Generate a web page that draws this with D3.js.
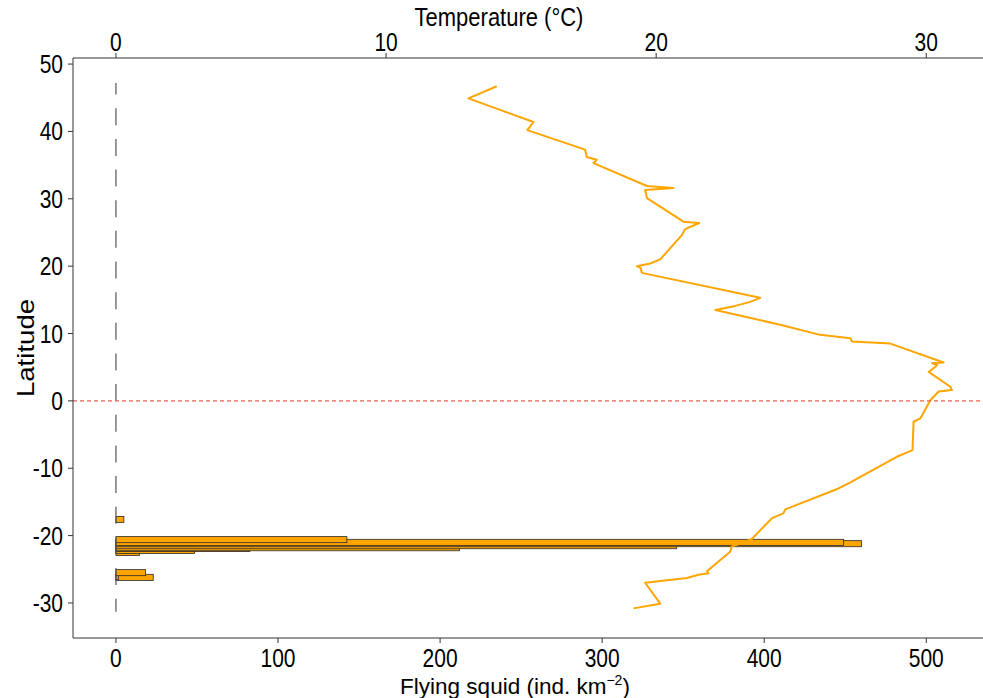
<!DOCTYPE html>
<html>
<head>
<meta charset="utf-8">
<script src="https://cdn.jsdelivr.net/npm/d3@7"></script>
<style>
  html, body { margin: 0; padding: 0; background: #fff; }
  svg text { font-family: "Liberation Sans", Arial, sans-serif; fill: #000; }
</style>
</head>
<body>
<svg id="chart" width="983" height="698"></svg>
<script>
// ---- Data ----
// Temperature profile along the cruise track (temperature °C, latitude)
const tempValues = [14.10, 13.05, 15.46, 15.23, 17.37, 17.43, 17.80, 17.68, 19.66, 20.64, 19.59, 19.66,
  21.01, 21.59, 21.07, 20.95, 20.15, 19.78, 19.29, 19.43, 19.47, 23.85, 23.48, 22.93, 22.19, 24.59,
  26.07, 27.19, 27.25, 28.67, 30.64, 30.21, 30.40, 30.09, 30.89, 30.95, 30.46, 30.15, 29.78, 29.53,
  29.49, 28.91, 27.19, 26.75, 24.78, 24.71, 24.29, 23.54, 23.11, 22.80, 22.74, 21.88, 21.94, 21.57,
  21.14, 19.59, 20.15, 19.16];
const tempLatitudes = [46.7, 44.9, 41.4, 40.2, 37.3, 36.2, 35.8, 35.3, 31.9, 31.6, 31.3, 30.1,
  26.6, 26.4, 25.5, 24.6, 21.0, 20.4, 20.0, 19.7, 19.0, 15.3, 14.7, 14.1, 13.5, 11.3,
  9.8, 9.3, 8.8, 8.5, 5.7, 5.6, 5.3, 4.3, 2.1, 1.6, 1.4, 0.1, -2.6, -3.1,
  -7.3, -8.3, -12.1, -13.0, -16.1, -16.7, -17.4, -20.5, -21.2, -21.6, -22.4, -25.3, -25.6, -25.8,
  -26.3, -27.0, -30.1, -30.8];

// Flying squid density per station (ind. km^-2) and station latitude
const squidLatitudes = [-26.2, -26.1, -25.5, -22.5, -22.2, -21.9, -21.8, -21.5, -21.2, -21.0, -20.6, -17.6];
const squidValues    = [23.0, 1.5, 18.3, 14.5, 48.5, 82.7, 212, 346, 460, 449, 142.5, 4.9];

// Axis ticks
const squidTicks = [0, 100, 200, 300, 400, 500];
const tempTicks = [0, 10, 20, 30];
const latTicks = [50, 40, 30, 20, 10, 0, -10, -20, -30];
const transectLat = [47.2, -31.3];   // extent of the sampled transect (dashed line)
const tempFactor = 0.06;            // temperature = squid * 0.06 (secondary axis)

// ---- Layout ----
const L = 73, R = 983, T = 58, B = 638;
const svg = d3.select("#chart");

const x = d3.scaleLinear().domain([-26.5, 535]).range([L, R]);
const xt = d3.scaleLinear().domain([-26.5 * tempFactor, 535 * tempFactor]).range([L, R]);
const y = d3.scaleLinear().domain([-35.2, 50.9]).range([B, T]);

const orange = "#FFA500";
const barH = 0.9; // bar thickness in degrees latitude

// Bars (drawn south to north)
const bars = squidLatitudes.map((lat, i) => ({ lat, v: squidValues[i] }));
svg.append("g").selectAll("rect").data(bars).join("rect")
  .attr("x", x(0))
  .attr("y", d => y(d.lat + barH / 2))
  .attr("width", d => x(d.v) - x(0))
  .attr("height", d => y(d.lat - barH / 2) - y(d.lat + barH / 2))
  .attr("fill", orange)
  .attr("stroke", "#2a2a2a")
  .attr("stroke-width", 0.8);

// Dashed transect line at x = 0
const yTop = y(transectLat[0]);
svg.append("line")
  .attr("x1", x(0)).attr("x2", x(0))
  .attr("y1", yTop).attr("y2", y(transectLat[1]))
  .attr("stroke", "#555").attr("stroke-width", 1.2)
  .attr("stroke-dasharray", "17 13.65")
  .attr("stroke-dashoffset", 5.3);

// Temperature line
const pts = tempValues.map((t, i) => [t, tempLatitudes[i]]);
svg.append("path")
  .datum(pts)
  .attr("d", d3.line().x(d => xt(d[0])).y(d => y(d[1])))
  .attr("fill", "none")
  .attr("stroke", orange)
  .attr("stroke-width", 2)
  .attr("stroke-linejoin", "round");

// Equator
svg.append("line")
  .attr("x1", L).attr("x2", R)
  .attr("y1", y(0)).attr("y2", y(0))
  .attr("stroke", "#F0604D").attr("stroke-width", 1.1)
  .attr("stroke-dasharray", "4 3");

// ---- Axes ----
const axisColor = "#333";
const fs = 21;
const sy = 1.2; // vertical stretch of glyphs
function txt(g, s, px, py, anchor, size) {
  return g.append("text")
    .attr("transform", `translate(${px},${py}) scale(1,${sy})`)
    .attr("text-anchor", anchor).attr("font-size", size).text(s);
}

// Left axis
const gl = svg.append("g");
gl.append("line").attr("x1", L).attr("x2", L).attr("y1", T).attr("y2", B)
  .attr("stroke", axisColor).attr("stroke-width", 1);
latTicks.forEach(v => {
  gl.append("line").attr("x1", L - 5).attr("x2", L).attr("y1", y(v)).attr("y2", y(v))
    .attr("stroke", axisColor);
  txt(gl, String(v), L - 10, y(v) + 9, "end", fs);
});

// Bottom axis
const gb = svg.append("g");
gb.append("line").attr("x1", L).attr("x2", R).attr("y1", B).attr("y2", B)
  .attr("stroke", axisColor);
squidTicks.forEach(v => {
  gb.append("line").attr("x1", x(v)).attr("x2", x(v)).attr("y1", B).attr("y2", B + 5)
    .attr("stroke", axisColor);
  txt(gb, String(v), x(v), 667, "middle", fs);
});

// Top axis
const gt = svg.append("g");
gt.append("line").attr("x1", L).attr("x2", R).attr("y1", T).attr("y2", T)
  .attr("stroke", axisColor);
tempTicks.forEach(v => {
  gt.append("line").attr("x1", xt(v)).attr("x2", xt(v)).attr("y1", T - 5).attr("y2", T)
    .attr("stroke", axisColor);
  txt(gt, String(v), xt(v), 51, "middle", fs);
});

// Titles
txt(svg, "Temperature (°C)", 499, 26, "middle", 22);
const bt = svg.append("text")
  .attr("x", 515).attr("y", 694)
  .attr("text-anchor", "middle").attr("font-size", 22.5);
bt.append("tspan").text("Flying squid (ind. km");
bt.append("tspan").attr("font-size", 14).attr("dy", -9).text("−2");
bt.append("tspan").attr("dy", 9).text(")");
svg.append("text").attr("transform", `translate(34, ${(T + B) / 2}) rotate(-90) scale(${sy},1)`)
  .attr("text-anchor", "middle").attr("font-size", 23).text("Latitude");
</script>
</body>
</html>
